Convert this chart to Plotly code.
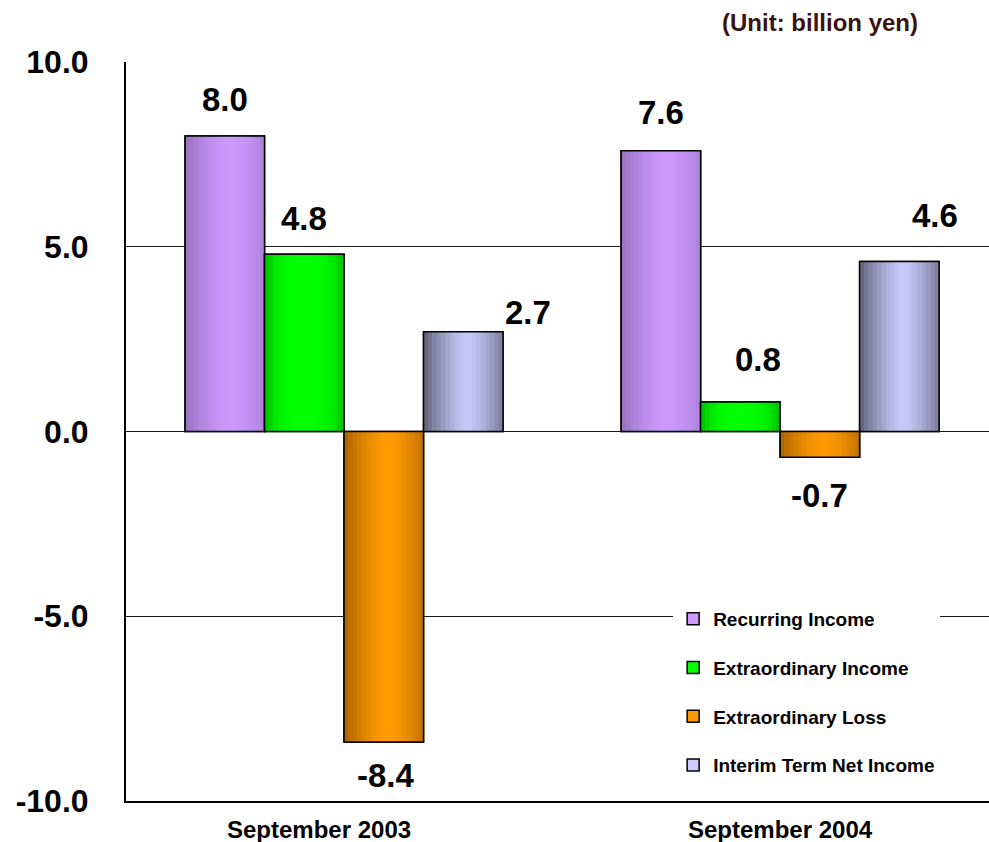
import plotly.graph_objects as go

# ---- data ----
categories = ["September 2003", "September 2004"]
series_names = ["Recurring Income", "Extraordinary Income", "Extraordinary Loss", "Interim Term Net Income"]
recurring_income = [8.0, 7.6]
extraordinary_income = [4.8, 0.8]
extraordinary_loss = [-8.4, -0.7]
interim_net_income = [2.7, 4.6]
y_tick_vals = [-10, -5, 0, 5, 10]
y_tick_text = ["-10.0", "-5.0", "0.0", "5.0", "10.0"]
unit_text = "(Unit: billion yen)"

series_values = [recurring_income, extraordinary_income, extraordinary_loss, interim_net_income]

# ---- styles ----
base_colors = ["#CC99FF", "#00FF00", "#FF9900", "#CCCCFF"]
edge_colors = ["#9670BE", "#00BE00", "#A86200", "#606078"]
center_colors = ["#CC99FF", "#00FF00", "#FF9A00", "#C8C8FA"]
profile_power = [1.6, 3.0, 1.6, 1.4]
peak_pos = [0.58, 0.5, 0.55, 0.55]

# label pixel nudges (xshift, yshift) per series per category
label_shift = [
    [(0, 36), (0, 38)],
    [(0, 36), (18, 42)],
    [(2, -34), (0, -38)],
    [(65, 19), (36, 46)],
]

FONT = "Liberation Sans, Arial, sans-serif"
BAR_W = 0.1823
GROUP_START = -2 * BAR_W
N_STRIPS = 18


def hex_to_rgb(h):
    h = h.lstrip("#")
    return tuple(int(h[i:i + 2], 16) for i in (0, 2, 4))


def mix(c1, c2, f):
    a, b = hex_to_rgb(c1), hex_to_rgb(c2)
    return "rgb(%d,%d,%d)" % tuple(round(a[i] + (b[i] - a[i]) * f) for i in range(3))


fig = go.Figure()

for i, name in enumerate(series_names):
    vals = series_values[i]
    off = GROUP_START + i * BAR_W
    # base bar (legend entry)
    fig.add_trace(go.Bar(
        x=categories, y=vals, name="<b>%s</b>" % name, legendgroup=name,
        offset=off, width=BAR_W,
        marker=dict(color=base_colors[i], line=dict(color="black", width=1.5)),
        showlegend=True, hoverinfo="skip",
    ))
    # gradient strips
    sw = BAR_W / N_STRIPS
    for k in range(N_STRIPS):
        t = (k + 0.5) / N_STRIPS
        p = peak_pos[i]
        d = abs(t - p) / max(p, 1 - p)
        f = 1 - d ** profile_power[i]
        fig.add_trace(go.Bar(
            x=categories, y=vals, legendgroup=name,
            offset=off + k * sw, width=sw * 1.08,
            marker=dict(color=mix(edge_colors[i], center_colors[i], f), line=dict(width=0)),
            showlegend=False, hoverinfo="skip",
        ))
    # outline
    fig.add_trace(go.Bar(
        x=categories, y=vals, legendgroup=name,
        offset=off, width=BAR_W,
        marker=dict(color="rgba(0,0,0,0)", line=dict(color="black", width=1.5)),
        showlegend=False, hoverinfo="skip",
    ))

# value labels
annotations = []
for i in range(len(series_names)):
    for j, cat in enumerate(categories):
        v = series_values[i][j]
        xs, ys = label_shift[i][j]
        annotations.append(dict(
            x=j + GROUP_START + (i + 0.5) * BAR_W, y=v, xref="x", yref="y",
            text="<b>%.1f</b>" % v, showarrow=False,
            xanchor="center", yanchor="middle", xshift=xs, yshift=ys,
            font=dict(family=FONT, size=33, color="black"),
        ))

# category labels
cat_xshift = [-25, 0]
for j, cat in enumerate(categories):
    annotations.append(dict(
        x=j, y=0, xref="x", yref="paper", text="<b>%s</b>" % cat, showarrow=False,
        xanchor="center", yanchor="middle", yshift=-28, xshift=cat_xshift[j],
        font=dict(family=FONT, size=24, color="black"),
    ))

# unit
annotations.append(dict(
    x=0.804, y=1.053, xref="paper", yref="paper", text="<b>%s</b>" % unit_text,
    showarrow=False, xanchor="center", yanchor="middle",
    font=dict(family=FONT, size=24, color="#3B1212"),
))

fig.update_layout(
    width=989, height=842,
    margin=dict(l=126, r=0, t=62, b=41),
    paper_bgcolor="white", plot_bgcolor="white",
    barmode="overlay",
    showlegend=True,
    legend=dict(
        x=0.634, y=0.272, xanchor="left", yanchor="top",
        bgcolor="white", borderwidth=0,
        font=dict(family=FONT, size=19, color="black"),
        traceorder="grouped", tracegroupgap=21,
        itemclick=False, itemdoubleclick=False,
    ),
    annotations=annotations,
    xaxis=dict(
        type="category", range=[-0.5, 1.479], showticklabels=False, ticks="",
        showgrid=False, showline=True, linecolor="black", linewidth=2,
        zeroline=False, fixedrange=True,
    ),
    yaxis=dict(
        range=[-10, 10], tickvals=y_tick_vals, ticktext=y_tick_text,
        tickfont=dict(family=FONT, size=32, color="black", weight="bold"),
        ticks="", ticklabelstandoff=29,
        showgrid=True, gridcolor="#1a1a1a", gridwidth=1.2,
        zeroline=True, zerolinecolor="#1a1a1a", zerolinewidth=1.2,
        showline=True, linecolor="black", linewidth=2, fixedrange=True,
    ),
)

fig.write_html(
    "out.html",
    config={"displayModeBar": False},
    post_script="document.body.style.margin='0';document.body.style.overflow='hidden';",
)
